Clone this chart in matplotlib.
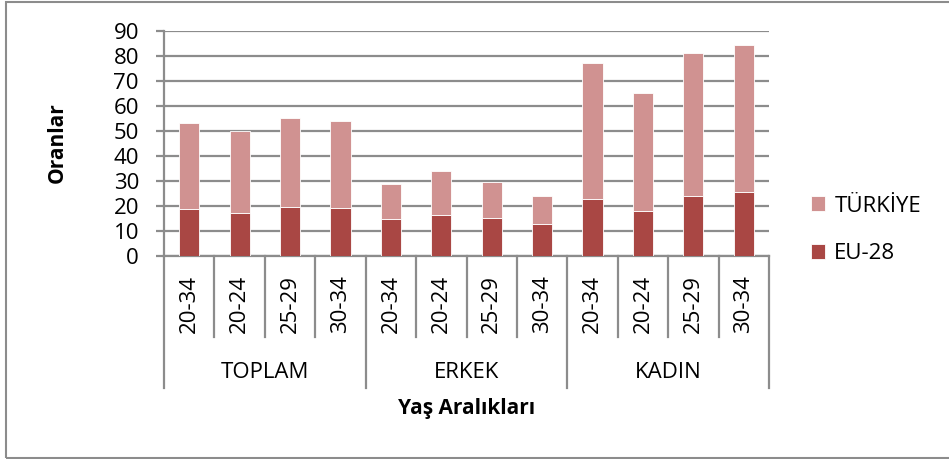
import matplotlib.pyplot as plt
from matplotlib.patches import Rectangle
import numpy as np

plt.rcParams['font.family'] = ['Open Sans', 'DejaVu Sans']

groups = ['TOPLAM', 'ERKEK', 'KADIN']
ages = ['20-34', '20-24', '25-29', '30-34']
eu28 = [18.8, 17.2, 19.6, 19.2, 14.6, 16.4, 15.2, 12.9, 22.8, 18.1, 24.0, 25.6]
totals = [53.0, 49.9, 55.1, 53.8, 28.9, 34.0, 29.7, 23.8, 77.1, 65.0, 81.0, 84.2]
turkiye = [t - e for t, e in zip(totals, eu28)]

W, H = 949, 459
fig = plt.figure(figsize=(W / 100, H / 100), dpi=100)

# plot area in pixels
x0, x1, y0, y1 = 164, 769, 30.7, 256
ax = fig.add_axes([x0 / W, 1 - y1 / H, (x1 - x0) / W, (y1 - y0) / H])

c_eu = '#A94744'
c_tr = '#D09291'
grid_c = '#8C8C8C'

x = np.arange(len(eu28))
ax.bar(x, eu28, width=0.4, color=c_eu, edgecolor='white', linewidth=0.6, label='EU-28', zorder=3)
ax.bar(x, turkiye, width=0.4, bottom=eu28, color=c_tr, edgecolor='white', linewidth=0.6,
       label='TÜRKİYE', zorder=3)

ax.set_xlim(-0.5, len(eu28) - 0.5)
ax.set_ylim(0, 90)
ax.set_yticks(range(0, 91, 10))
ax.yaxis.grid(True, color=grid_c, linewidth=1.6)
ax.set_axisbelow(True)
ax.tick_params(axis='y', length=6, width=1.6, color=grid_c, pad=12, labelsize=16)
ax.set_xticks([])
for s in ['top', 'right']:
    ax.spines[s].set_visible(False)
for s in ['left', 'bottom']:
    ax.spines[s].set_color(grid_c)
    ax.spines[s].set_linewidth(1.6)

# multi-level category axis
trans = ax.get_xaxis_transform()
ph = y1 - y0
short_y = -(337 - y1) / ph
long_y = -(388 - y1) / ph
n = len(ages)
for i in range(len(eu28) + 1):
    yb = long_y if i % n == 0 else short_y
    ax.plot([i - 0.5, i - 0.5], [0, yb], transform=trans, color=grid_c, lw=1.6, clip_on=False)
for i in range(len(eu28)):
    ax.text(i, -(304 - y1) / ph, ages[i % n], transform=trans, rotation=90,
            ha='center', va='center', fontsize=16)
for g, name in enumerate(groups):
    ax.text(g * n + (n - 1) / 2, -(372 - y1) / ph, name, transform=trans,
            ha='center', va='center', fontsize=16)

ax.text(0.5, -(408 - y1) / ph, 'Yaş Aralıkları', transform=ax.transAxes,
        ha='center', va='center', fontsize=15, fontweight='bold')
fig.text(57 / W, 1 - 143 / H, 'Oranlar', rotation=90, ha='center', va='center',
         fontsize=15, fontweight='bold')

h, l = ax.get_legend_handles_labels()
fig.legend(h[::-1], l[::-1], loc='center left', bbox_to_anchor=(791 / W, 1 - 230 / H),
           frameon=False, fontsize=16, handlelength=0.65, handleheight=0.65,
           labelspacing=1.2, handletextpad=0.4)

fig.patches.append(Rectangle((6 / W, 1 - 458 / H), 1, (458 - 1.5) / H, transform=fig.transFigure,
                             fill=False, edgecolor=grid_c, linewidth=1.5))

fig.savefig('out.png', dpi=100)
